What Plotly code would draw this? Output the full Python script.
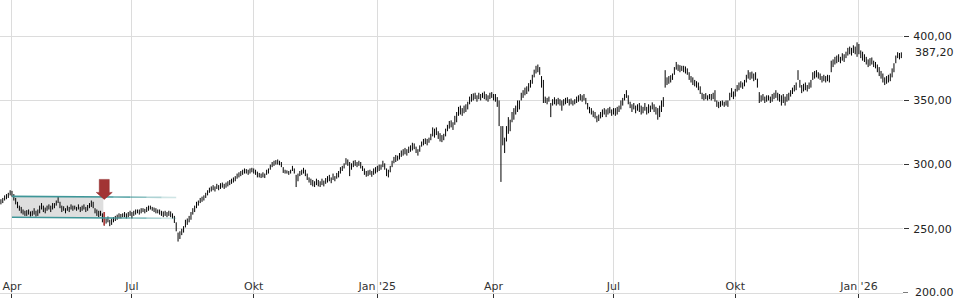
import pandas as pd
import plotly.graph_objects as go

# ---------------- data ----------------
start_date = "2024-03-22"

low = [
    269,270,272,273,274,276,275,272,269,266,
    264,262,261,260,260,261,259.5,260,261,259.5,
    260,262,265,263,262,264,265,263,265,266,
    268,270,266,263,264,262,264,263,265,264,
    265,264,265,263,264,265,263,264,266,267,
    266,262,260,259,260,255,252.5,254,255,252,
    253,255,256,257,258,258,259,259,258,259,
    260,258,260,261,262,261,262,263,262,263,
    264,265,264,263,262,262,261,260,259,260,
    259,260,259,258,254.5,248,240,242,245,247,
    251,253,255,257,261,263,266,268,270,271,
    272,274,276,278,279,280,279,281,280,281,
    282,281,282,283,284,285,286,287,289,290,
    291,292,293,293,292,293,294,293,292,290,
    290,289.5,290,289.5,292,293,296,298,299,300,
    300,299.5,298,293.5,293,293,292,293,295,293,
    282.5,287,291,292,293,291,288,286,284,283,
    282.5,284,283,282.5,284,283,285,286,287,285.5,
    288,287,289,290,293,295,297,300,299,291,
    296,298,299,298,299,297,295,292,290.5,291,
    292,290.5,292,293,294,295,296,298,296,291,
    290,294,298,301,302,303,304,306,307,308,
    307,309,310,311,312,309,307,310,314,315,
    316,315,317,319,322,321,323,320,318,317.5,
    319,322,326,328,329,327,331,333,338,339,
    338,340,341,343,347,349,350,351,349,351,
    350,352,351,350,349,351,352,350,349,345,
    330,286.5,315,309,318,324,326,333,335,339,
    341,343,350,352,354,355,357,360,363,368,
    371,372,370,360,348,348,347,349,337,346,
    347,346,347,346,342,346,347,348,346,347,
    346,347,348,349,350,349,350,347,343,340,
    339,337,336,333,334,336,337,339,337,339,
    340,338,339,338,339,341,343,346,350,352,
    347,344,341,343,340,342,341,339,340,342,
    339,340,341,343,341,339,335,337,341,345,
    360,362,363,364,366,370,374,373,372,373,
    372,371,370,366,364,362,361,360,358,355,
    351,350,351,350,351,350,351,349,345,344,
    345,346,345,346,345,350,352.6,351,353,357,
    358,360,359,361,364,367,366,367,365,366,
    360,348,349,350,348,349,350,348,349,351,
    352,350,349,346,348,346,349,350,353,355,
    357,358,366,360,355.7,357,358,357,359,360,
    366,367,368,367,366,364,365,364,365,364,
    372,376,378,379,380,379,381,380,383,385,
    386,385,387,386,384,386,383,381,380,378,
    376,377,378,376,375,372,369,367,364,362,
    363,364,365,368,372,379,383,382,383,
]

high = [
    273,274,276,277,278,280,279.5,277,274,271,
    268,267,265,264,264.5,265,263.5,264,266,264,
    265,268,270,268,266.5,268,269,268,270,270,
    272,275,271,268,267.5,266,268,267,269,268,
    268,267,269,267,268,269,267,268.5,270,272,
    271,266,265,264,264,262,263,258,259.5,257,
    258,259,260,261,262,261.5,262,263,262,263,
    264,263,264,265,265,265,266,266,265.5,267,
    268,268,267,266.5,266,265,265,264,263.5,264,
    263,264,263.5,262,260,255,247,248,250,252,
    257,258,260,263,266,268,271,272,274,275,
    276,278,280,282,283,284,283,285,284,285.5,
    286,285,286,287,288,289,290,291,293,294,
    295,296,297,296.5,296,297,297.5,297,296,294.5,
    293.5,293,294,293,296,297,300,302,303,303.5,
    304,303,302,298,296,295.5,295,296,299,297,
    292,293,295,296,297.5,296,293,290,289,288,
    287,289,288,287,289,287.5,289.5,291,292,290,
    293,291,293.5,295,298,299,301,305,304,302,
    301,303,303.5,302,303,302,299,297,295,295.5,
    296,295,297,298,299,300,300,303,301,297,
    296,299,303,306,307.5,307,309,311,312,313,
    312,314,315,317,316.5,314,312,315,318,320,
    320.5,320,321,324,329,328,329,326,324.5,323,
    324,328,331,334,334.5,333,338,341,345,346,
    344,346,347,349,353,355,355.5,356,354,356,
    355,356,357,355,354,356,356.5,355,355,352.6,
    350,330,330,321,330,337,335,341,344,346,
    350,350,356,358,360,361,363.5,366,370,374,
    377,378,376,369,366,353,352,353,348,351,
    352.5,351,352,351,350,351,352,352.5,351,351.5,
    350,351,353,354,355,354,355,352,348,345,
    344,342,341,338,339,341,343,344,343,344,
    345,343,344,344,345,346,350,352,355,358,
    354,349,347,348,346,347,348,346,345,348,
    345,347,346,348.5,347,345,344,346,350,352.6,
    373.6,368,369,369.7,371,376,380,378,377.5,377,
    377,376.5,375,372,369,368,366,365,364,361,
    356,355,355.7,354,355,355,356,358,350,349,
    349.5,350,349,350,350,356,359.6,357,359,362,
    364,365,364,366,370,373.6,372,372.5,371,372,
    367,356.5,354,355,353,354,354,353,355,356,
    358,356,355,354,355,353,355,356,358,360,
    362,364,373.6,366,362,363,364,362,364,366,
    372,373,373.6,372,371,369,370,369,370,369.7,
    381,382,384,385,386,384,386.8,386,388,391,
    392,391,393,392,395.3,394,389,388,386,384,
    382,383,383.5,381,380,378,376,373,371,368,
    369,370,371,375,379,385,387.6,387,387.5,
]

last_price = 387.20
last_price_label = "387,20"

tick_dates = ["2024-04-01", "2024-07-01", "2024-10-01", "2025-01-02",
              "2025-04-01", "2025-07-01", "2025-10-01", "2026-01-02"]
tick_labels = ["Apr", "Jul", "Okt", "Jan '25", "Apr", "Jul", "Okt", "Jan '26"]

y_tick_values = [200, 250, 300, 350, 400]
y_tick_labels = ["200.00", "250,00", "300,00", "350,00", "400,00"]

# chart pattern (rectangle / channel) and signal
pattern_start = "2024-04-01"
pattern_end = "2024-06-07"
signal_date = "2024-06-10"
channel_end = "2024-08-02"
upper_start, upper_end = 275.2, 274.4
lower_start, lower_end = 258.9, 258.1

# ---------------- build ----------------
dates = pd.bdate_range(start=start_date, periods=len(high))
pos = {d.strftime("%Y-%m-%d"): i for i, d in enumerate(dates)}

xs, ys = [], []
for i, (lo, hi) in enumerate(zip(low, high)):
    xs += [i, i, None]
    ys += [lo, hi, None]

sig = pos[signal_date]
p0, p1 = pos[pattern_start], pos[pattern_end]
c1 = pos[channel_end]

fig = go.Figure()

fig.add_trace(go.Scatter(x=xs, y=ys, mode="lines",
                         line=dict(color="#000000", width=1.0),
                         hoverinfo="skip", showlegend=False))
fig.add_trace(go.Scatter(x=[sig, sig], y=[low[sig], high[sig]], mode="lines",
                         line=dict(color="#b33a3a", width=1.6),
                         hoverinfo="skip", showlegend=False))

shapes = []
# pattern box
shapes.append(dict(type="rect", xref="x", yref="y",
                   x0=p0 - 0.5, x1=p1 + 0.5, y0=lower_start, y1=upper_start,
                   fillcolor="rgba(200,200,200,0.6)", line=dict(width=0),
                   layer="below"))

# channel lines with fade at the right end
def seg_lines(ys0, ys1):
    n_total = c1 - p0
    cuts = [0.0, 0.62, 0.72, 0.82, 0.91, 1.0]
    alphas = [1.0, 0.8, 0.6, 0.42, 0.25]
    out = []
    for k in range(len(alphas)):
        fa, fb = cuts[k], cuts[k + 1]
        out.append(dict(type="line", xref="x", yref="y",
                        x0=p0 + fa * n_total, x1=p0 + fb * n_total,
                        y0=ys0 + (ys1 - ys0) * fa, y1=ys0 + (ys1 - ys0) * fb,
                        line=dict(color=f"rgba(62,150,152,{alphas[k]})", width=1.6),
                        layer="above"))
    return out

shapes += seg_lines(upper_start, upper_end)
shapes += seg_lines(lower_start, lower_end)

# signal arrow (block arrow pointing down to upper line)
shapes.append(dict(type="path", xref="x", yref="y",
                   xsizemode="pixel", ysizemode="pixel",
                   xanchor=sig, yanchor=upper_start,
                   path="M -5,17 L 5,17 L 5,4 L 8,4 L 0,-3 L -8,4 L -5,4 Z",
                   fillcolor="#a23434", line=dict(color="#8e2b2b", width=0.5),
                   layer="above"))

# tick dash for the bottom value (label drawn as annotation)
shapes.append(dict(type="line", xref="paper", yref="y",
                   xsizemode="pixel", xanchor=1, x0=0, x1=5,
                   y0=y_tick_values[0], y1=y_tick_values[0],
                   line=dict(color="#333", width=1)))

fig.update_layout(
    width=960, height=300,
    margin=dict(l=0, r=57, t=0, b=7),
    paper_bgcolor="white", plot_bgcolor="white",
    font=dict(family="DejaVu Sans", size=11, color="#222"),
    shapes=shapes,
    showlegend=False,
)

fig.update_xaxes(
    range=[-0.5, 488.9],
    tickvals=[pos[d] for d in tick_dates], ticktext=tick_labels,
    showgrid=True, gridcolor="#dcdcdc", gridwidth=1,
    ticks="outside", ticklen=4, tickcolor="#333",
    ticklabelposition="inside",
    tickfont=dict(family="DejaVu Sans", size=11, color="#333"),
    showline=True, linecolor="#dcdcdc", linewidth=1,
    zeroline=False, fixedrange=True,
)
fig.update_yaxes(
    side="right", range=[199.9, 428.3],
    tickvals=y_tick_values, ticktext=y_tick_labels,
    showgrid=True, gridcolor="#dcdcdc", gridwidth=1,
    ticks="outside", ticklen=5, tickcolor="#333",
    ticklabelstandoff=2, ticklabeloverflow="allow",
    tickfont=dict(family="DejaVu Sans", size=11, color="#222"),
    zeroline=False, fixedrange=True,
)

fig.add_annotation(xref="paper", yref="y", x=1, y=last_price,
                   text=last_price_label, showarrow=False,
                   xanchor="left", xshift=10,
                   font=dict(family="DejaVu Sans", size=11, color="#222"))
fig.add_annotation(xref="paper", yref="y", x=1, y=y_tick_values[0],
                   text=y_tick_labels[0], showarrow=False,
                   xanchor="left", xshift=10,
                   font=dict(family="DejaVu Sans", size=11, color="#222"))

fig.write_html("out.html")
